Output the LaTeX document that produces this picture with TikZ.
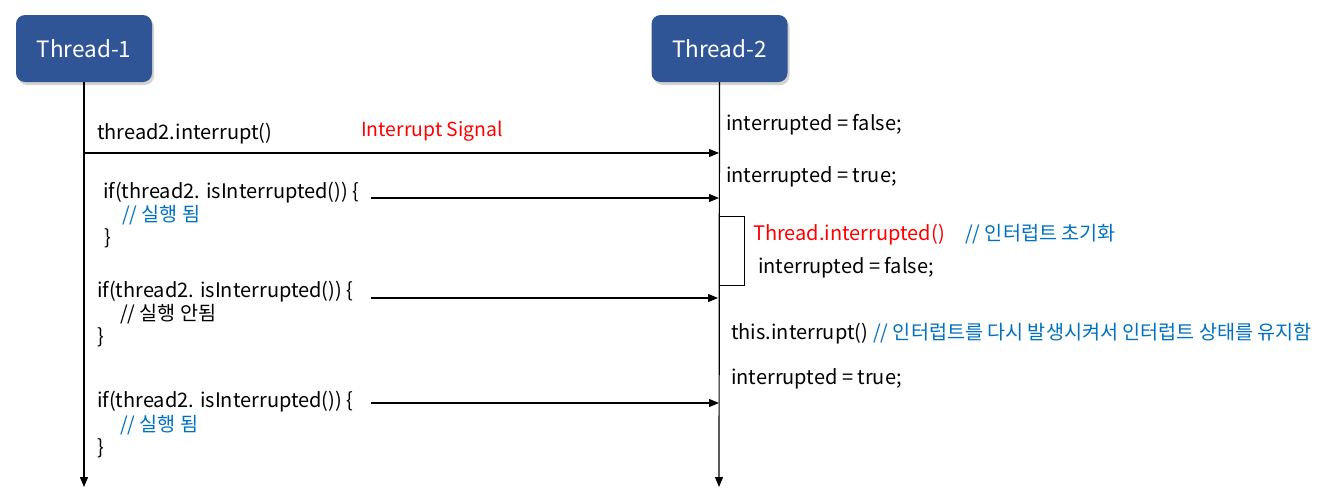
\documentclass[tikz,border=0pt]{standalone}
\usepackage{fontspec}
\setmainfont{Noto Sans CJK KR}
\usetikzlibrary{arrows.meta,shadows}
\definecolor{boxblue}{HTML}{2F5597}
\definecolor{cblue}{HTML}{0070C0}
\definecolor{cred}{HTML}{FF0000}
\tikzset{
  thread/.style={draw=none, fill=boxblue, rounded corners=9pt, minimum width=136pt, minimum height=67pt,
    text=white, font=\fontsize{22.5}{26}\selectfont, drop shadow={shadow xshift=2pt, shadow yshift=-3pt, opacity=0.35}},
  life/.style={line width=1.2pt, -{Triangle[length=10pt,width=8pt]}},
  msg/.style={line width=1.1pt, -{Triangle[length=10pt,width=8pt]}},
  code/.style={anchor=west, inner sep=0pt, yshift=-1.5pt, font=\fontsize{20}{24}\selectfont},
  cmt/.style={code, text=cblue, font=\fontsize{19.6}{24}\selectfont},
  cmtk/.style={code, font=\fontsize{19.6}{24}\selectfont},
  red/.style={code, text=cred},
  act/.style={line width=0.8pt}
}
\begin{document}
\begin{tikzpicture}[x=1pt,y=-1pt]
\useasboundingbox (0,0) rectangle (1329,493);
\node[thread] (t1) at (84,48.5) {Thread-1};
\node[thread] (t2) at (719.5,48.5) {Thread-2};
\coordinate (e1) at (84,487);
\coordinate (e2) at (719,487);
\draw[life] (t1.south) -- (e1);
\draw[life] (t2.south) -- (e2);
% message 1
\coordinate (m1a) at (84,153);
\coordinate (m1b) at (719,153);
\draw[msg] (m1a) -- (m1b);
\node[code] (c1) at (97,132) {thread2.interrupt()};
\node[red, font=\fontsize{19.4}{24}\selectfont] (s1) at (361,130) {Interrupt Signal};
% message 2
\coordinate (m2a) at (371,198);
\coordinate (m2b) at (719,198);
\draw[msg] (m2a) -- (m2b);
\node[code] (c2a) at (103,191) {if(thread2. isInterrupted()) \{};
\node[cmt] (c2b) at (122,214) {// 실행 됨};
\node[code] (c2c) at (104,237) {\}};
% message 3
\coordinate (m3a) at (371,298);
\coordinate (m3b) at (718,298);
\draw[msg] (m3a) -- (m3b);
\node[code] (c3a) at (97,290) {if(thread2. isInterrupted()) \{};
\node[cmtk] (c3b) at (120,313) {// 실행 안됨};
\node[code] (c3c) at (97,336) {\}};
% message 4
\coordinate (m4a) at (371,403);
\coordinate (m4b) at (719,403);
\draw[msg] (m4a) -- (m4b);
\node[code] (c4a) at (97,400) {if(thread2. isInterrupted()) \{};
\node[cmt] (c4b) at (120,424) {// 실행 됨};
\node[code] (c4c) at (97,447) {\}};
% activation
\draw[act] (719,216) rectangle (744,285);
% right side
\node[code] (r1) at (726,123) {interrupted = false;};
\node[code] (r2) at (726,175) {interrupted = true;};
\node[red] (r3) at (753,233) {Thread.interrupted()};
\node[cmt] (r3c) at (965,233) {// 인터럽트 초기화};
\node[code] (r4) at (758,266) {interrupted = false;};
\node[code] (r5) at (731,332) {this.interrupt()};
\node[cmt] (r5c) at (873,332) {// 인터럽트를 다시 발생시켜서 인터럽트 상태를 유지함};
\node[code] (r6) at (731,377) {interrupted = true;};
\end{tikzpicture}
\end{document}
